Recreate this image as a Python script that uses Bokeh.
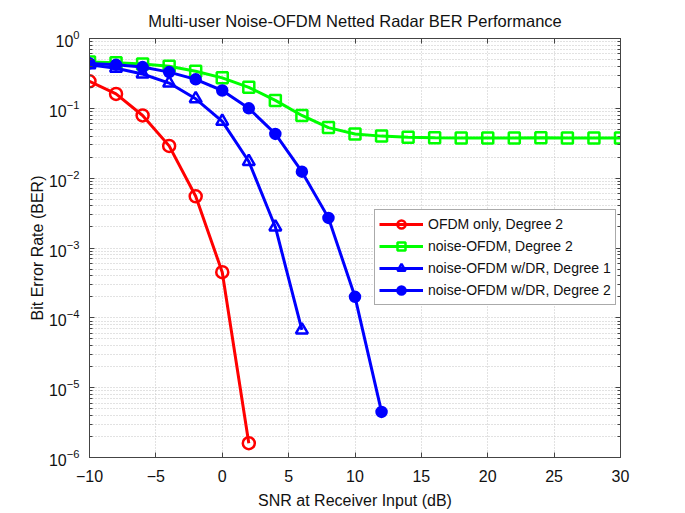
from bokeh.plotting import figure
from bokeh.models import FixedTicker, LogAxis, LinearAxis, Legend, LegendItem
from bokeh.embed import file_html
from bokeh.resources import INLINE

# ---- data ----
snr_red = [-10, -8, -6, -4, -2, 0, 2]
ber_red = [0.244, 0.161, 0.079, 0.029, 0.0055, 4.5e-4, 1.6e-6]

snr_green = [-10, -8, -6, -4, -2, 0, 2, 4, 6, 8, 10, 12, 14, 16, 18, 20, 22, 24, 26, 28, 30]
ber_green = [0.46, 0.45, 0.43, 0.40, 0.34, 0.273, 0.20, 0.13, 0.079, 0.053, 0.043,
             0.040, 0.0386, 0.0378, 0.0376, 0.0376, 0.0376, 0.0378, 0.0376, 0.0376, 0.0376]

snr_tri = [-10, -8, -6, -4, -2, 0, 2, 4, 6]
ber_tri = [0.42, 0.376, 0.31, 0.23, 0.137, 0.065, 0.0173, 0.002, 6.7e-5]

snr_dot = [-10, -8, -6, -4, -2, 0, 2, 4, 6, 8, 10, 12]
ber_dot = [0.44, 0.42, 0.39, 0.33, 0.26, 0.18, 0.10, 0.043, 0.0124, 0.0027, 2.0e-4, 4.5e-6]

x_ticks = [-10, -5, 0, 5, 10, 15, 20, 25, 30]
y_exponents = [-6, -5, -4, -3, -2, -1, 0]

labels = ["OFDM only, Degree 2", "noise-OFDM, Degree 2",
          "noise-OFDM w/DR, Degree 1", "noise-OFDM w/DR, Degree 2"]

FONT = "Liberation Sans"

p = figure(width=668, height=513, x_range=(-10, 30), y_range=(1e-6, 1),
           y_axis_type="log", output_backend="svg", toolbar_location=None,
           title="Multi-user Noise-OFDM Netted Radar BER Performance",
           min_border_left=89, min_border_right=48, min_border_top=38,
           min_border_bottom=56)

p.title.text_font = FONT
p.title.text_font_size = "16.5px"
p.title.text_font_style = "normal"
p.title.align = "center"
p.title.text_color = "#111111"
p.title.standoff = 18

y_major = [10.0 ** e for e in y_exponents]
y_minor = [k * 10.0 ** e for e in y_exponents[:-1] for k in range(2, 10)]
yticker = FixedTicker(ticks=y_major, minor_ticks=y_minor)
xticker = FixedTicker(ticks=x_ticks)

p.xaxis.ticker = xticker
p.yaxis.ticker = yticker

for ax in [p.xaxis[0], p.yaxis[0]]:
    ax.major_label_text_font = FONT
    ax.major_label_text_font_size = "16px"
    ax.major_label_text_color = "#111111"
    ax.axis_label_text_font = FONT
    ax.axis_label_text_font_size = "16px"
    ax.axis_label_text_font_style = "normal"
    ax.axis_label_text_color = "#111111"
    ax.major_tick_in = 5
    ax.major_tick_out = 0
    ax.minor_tick_in = 3
    ax.minor_tick_out = 0
    ax.axis_line_color = "#444444"
    ax.major_tick_line_color = "#444444"
    ax.minor_tick_line_color = "#444444"

p.xaxis.axis_label = "SNR at Receiver Input (dB)"
p.yaxis.axis_label = "Bit Error Rate (BER)"
p.xaxis.major_label_standoff = 12
p.yaxis.major_label_standoff = 10
p.xaxis.axis_label_standoff = 7
p.yaxis.axis_label_standoff = 0

right = LogAxis(ticker=yticker, major_label_text_font_size="2px",
                major_label_text_alpha=0,
                major_tick_in=5, major_tick_out=0, minor_tick_in=3, minor_tick_out=0,
                axis_line_color="#444444", major_tick_line_color="#444444",
                minor_tick_line_color="#444444", major_label_standoff=0)
top = LinearAxis(ticker=xticker, major_label_text_font_size="2px",
                 major_label_text_alpha=0,
                 major_tick_in=5, major_tick_out=0, minor_tick_out=0, minor_tick_in=0,
                 axis_line_color="#444444", major_tick_line_color="#444444",
                 major_label_standoff=0)
p.add_layout(right, "right")
p.add_layout(top, "above")

p.outline_line_color = "#444444"

grid_col = "#c4c4c4"
p.xgrid.grid_line_color = grid_col
p.xgrid.grid_line_dash = "1 2"
p.ygrid.grid_line_color = grid_col
p.ygrid.grid_line_dash = "1 2"
p.ygrid.minor_grid_line_color = grid_col
p.ygrid.minor_grid_line_dash = "1 2"

series = [
    (snr_red, ber_red, "#ff0000", "circle", 12, 0.0),
    (snr_green, ber_green, "#00ff00", "square", 11, 0.0),
    (snr_tri, ber_tri, "#0000ff", "triangle", 12, 0.0),
    (snr_dot, ber_dot, "#0000ff", "circle", 10, 1.0),
]

items = []
for (xs, ys, col, mk, sz, fa), lab in zip(series, labels):
    r1 = p.line(xs, ys, line_color=col, line_width=3)
    r2 = p.scatter(xs, ys, marker=mk, size=sz, line_color=col, line_width=2.5,
                   fill_color=col, fill_alpha=fa)
    items.append(LegendItem(label=lab, renderers=[r1, r2]))

legend = Legend(items=items, location=(285, 152), glyph_width=44, glyph_height=20,
                spacing=2, padding=4, margin=0, label_standoff=5,
                label_text_font=FONT, label_text_font_size="14px",
                label_text_color="#111111",
                border_line_color="#555555", border_line_width=1,
                background_fill_color="white", background_fill_alpha=1.0)
p.add_layout(legend, "center")

open("out.html", "w").write(file_html(p, INLINE))
